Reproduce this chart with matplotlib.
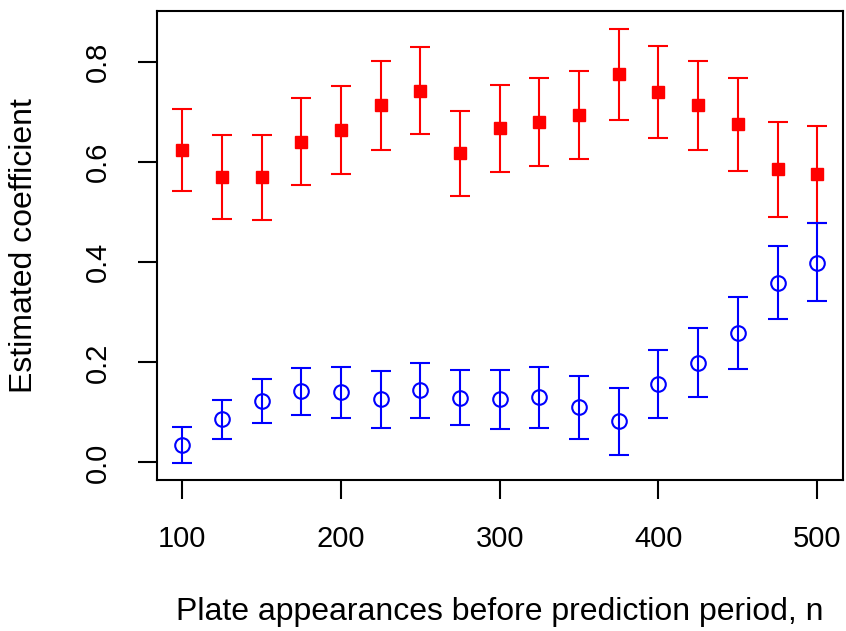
import matplotlib
matplotlib.use("Agg")
import matplotlib.pyplot as plt

plt.rcParams['font.family'] = ['Liberation Sans', 'DejaVu Sans']

n = [100, 125, 150, 175, 200, 225, 250, 275, 300, 325, 350, 375, 400, 425, 450, 475, 500]

# red series (filled squares)
red_est = [0.624, 0.571, 0.571, 0.641, 0.664, 0.714, 0.742, 0.618, 0.669, 0.681,
           0.695, 0.777, 0.741, 0.715, 0.677, 0.587, 0.577]
red_lo = [0.543, 0.487, 0.484, 0.554, 0.577, 0.625, 0.657, 0.533, 0.581, 0.593,
          0.606, 0.685, 0.649, 0.625, 0.583, 0.491, 0.479]
red_hi = [0.706, 0.655, 0.654, 0.728, 0.752, 0.803, 0.831, 0.703, 0.755, 0.769,
          0.783, 0.867, 0.832, 0.803, 0.769, 0.681, 0.673]

# blue series (open circles)
blue_est = [0.035, 0.086, 0.123, 0.143, 0.140, 0.126, 0.144, 0.129, 0.126, 0.130,
            0.110, 0.082, 0.156, 0.199, 0.259, 0.359, 0.399]
blue_lo = [-0.001, 0.047, 0.079, 0.095, 0.088, 0.069, 0.089, 0.074, 0.067, 0.068,
           0.047, 0.015, 0.089, 0.131, 0.187, 0.286, 0.322]
blue_hi = [0.070, 0.124, 0.166, 0.189, 0.191, 0.182, 0.199, 0.185, 0.185, 0.191,
           0.172, 0.148, 0.224, 0.268, 0.330, 0.433, 0.479]

fig = plt.figure(figsize=(8.46, 6.31), dpi=100)
ax = fig.add_axes([156.7 / 846, 151 / 631, 686 / 846, 469 / 631])

red_err = [[e - l for e, l in zip(red_est, red_lo)], [h - e for e, h in zip(red_est, red_hi)]]
blue_err = [[e - l for e, l in zip(blue_est, blue_lo)], [h - e for e, h in zip(blue_est, blue_hi)]]

ax.errorbar(n, red_est, yerr=red_err, fmt='s', color='red', ms=8.8,
            ecolor='red', elinewidth=1.5, capsize=7.4, capthick=1.5)
ax.errorbar(n, blue_est, yerr=blue_err, fmt='o', color='blue', ms=10.5, mfc='none',
            mew=1.5, ecolor='blue', elinewidth=1.5, capsize=7.4, capthick=1.5)

ax.set_xlim(84, 516)
ax.set_ylim(-0.035, 0.902)
ax.set_xticks([100, 200, 300, 400, 500])
ax.set_yticks([0.0, 0.2, 0.4, 0.6, 0.8])
ax.set_yticklabels(['0.0', '0.2', '0.4', '0.6', '0.8'], rotation=90, va='center')

for s in ax.spines.values():
    s.set_linewidth(1.5)
ax.tick_params(length=13.7, width=1.5, labelsize=21, pad=18.5)

ax.set_xlabel('Plate appearances before prediction period, n', fontsize=23, va='center')
ax.set_ylabel('Estimated coefficient', fontsize=23, va='center')
ax.xaxis.set_label_coords(0.5, (480 - 612) / 469)
ax.yaxis.set_label_coords((24 - 156.7) / 686, 0.5)

fig.savefig('out.png', dpi=100)
